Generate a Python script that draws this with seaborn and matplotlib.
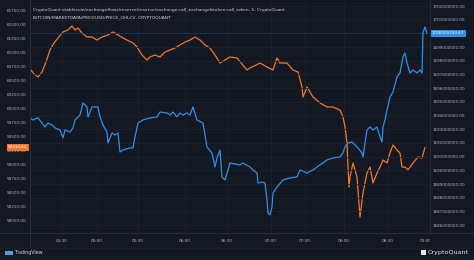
import matplotlib
matplotlib.use("Agg")
import matplotlib.pyplot as plt
import matplotlib.ticker as mticker
from matplotlib.patches import Rectangle
import seaborn as sns
import pandas as pd

# ---------------- data ----------------
btc_bar = [2, 5, 9, 13, 17, 21, 25, 29, 34, 39, 43, 46, 49, 53, 58, 63, 68, 73, 79, 84,
           89, 94, 98, 104, 108, 113, 118, 121, 126, 131, 136, 141, 146, 151, 156, 161, 166,
           171, 176, 181, 186, 191, 201, 208, 218, 221, 231, 238, 244, 248, 251, 258, 264,
           269, 273, 274, 278, 284, 291, 298, 304, 311, 314, 316, 318, 319, 320, 321, 324,
           328, 331, 334, 338, 341, 344, 348, 351, 354, 358, 361, 364, 368, 371, 373, 376,
           379, 384, 389, 393, 396]
btc_price = [60696, 60625, 60571, 60661, 60839, 61054, 61179, 61268, 61375, 61411, 61482,
             61411, 61446, 61357, 61286, 61286, 61232, 61286, 61321, 61375, 61321, 61268,
             61232, 61179, 61107, 60964, 60875, 60929, 60964, 60929, 61018, 61054, 61089,
             61143, 61196, 61232, 61286, 61232, 61143, 61089, 60964, 60821, 60929, 60911,
             60696, 60732, 60821, 60750, 60696, 60911, 60821, 60821, 60696, 60661, 60393,
             60214, 60393, 60214, 60107, 60036, 60036, 59982, 59857, 59679, 59393, 58964,
             58607, 58786, 59036, 58786, 58071, 58500, 58857, 58964, 58679, 58857, 58964,
             59089, 59036, 59214, 59357, 59268, 59214, 58964, 58964, 58911, 59036, 59143,
             59125, 59314.82]

res_bar = [1, 4, 6, 9, 13, 16, 19, 23, 26, 31, 34, 36, 41, 44, 46, 51, 54, 58, 59, 63, 69,
           71, 74, 78, 79, 83, 86, 89, 91, 94, 101, 104, 106, 109, 114, 121, 128, 131, 138,
           141, 144, 148, 151, 154, 158, 161, 164, 168, 174, 178, 183, 186, 188, 191, 193,
           196, 201, 211, 214, 221, 224, 228, 229, 233, 236, 238, 239, 241, 243, 244, 248,
           254, 261, 268, 271, 278, 284, 288, 294, 298, 304, 311, 314, 316, 319, 323, 326,
           329, 333, 334, 336, 338, 341, 344, 348, 351, 353, 354, 356, 358, 361, 364, 368,
           371, 374, 376, 378, 381, 384, 388, 391, 393, 394, 396, 398]
res_musd = [1693.83, 1693.68, 1693.75, 1693.83, 1693.46, 1693.17, 1693.46, 1693.31, 1693.10,
            1692.95, 1692.37, 1692.95, 1692.80, 1693.10, 1693.68, 1694.04, 1694.92, 1694.63,
            1693.90, 1694.63, 1694.63, 1693.90, 1693.31, 1692.80, 1692.00, 1692.73, 1692.58,
            1692.73, 1691.34, 1691.49, 1691.64, 1691.64, 1692.44, 1693.46, 1693.68, 1693.83,
            1693.90, 1694.26, 1694.19, 1694.04, 1694.26, 1693.90, 1694.19, 1694.04, 1694.19,
            1694.04, 1694.63, 1693.68, 1693.46, 1691.71, 1691.27, 1690.25, 1690.91, 1691.49,
            1689.52, 1689.30, 1690.54, 1690.39, 1690.54, 1690.25, 1690.03, 1689.81, 1689.08,
            1689.15, 1689.08, 1687.84, 1686.89, 1686.75, 1687.33, 1688.35, 1688.79, 1689.30,
            1689.45, 1689.52, 1690.03, 1689.81, 1690.03, 1690.25, 1690.54, 1690.76, 1690.91,
            1690.98, 1691.27, 1691.71, 1692.00, 1692.07, 1691.85, 1691.64, 1691.27, 1690.98,
            1692.00, 1692.95, 1693.17, 1692.95, 1693.17, 1692.44, 1692.07, 1693.17, 1693.68,
            1694.41, 1695.36, 1695.72, 1696.82, 1697.11, 1698.28, 1698.57, 1697.84, 1697.11,
            1697.33, 1697.11, 1697.33, 1697.11, 1700.03, 1700.47, 1700.0003]

time_ticks = [33, 68, 109, 156, 198, 242, 276, 315, 359, 397]
time_labels = ["04:30", "05:00", "05:30", "06:00", "06:30", "07:00", "07:30", "08:00", "08:30", "09:00"]
btc_ticks = [58000, 58250, 58500, 58750, 59000, 59250, 59500, 59750, 60000, 60250, 60500,
             60750, 61000, 61250, 61500, 61750]
res_ticks = list(range(1686, 1703))

title1 = "CryptoQuant:stablecoin/exchangeflows/reserve/reserve/exchange=all_exchange&token=all_token, 5, CryptoQuant"
title2 = "BITCOIN/MARKETDATA/PRICEUSD/PRICE_OHLCV, CRYPTOQUANT"
btc_last_label = "59314.82"
res_last_label = "1700000293.67"

# ---------------- style ----------------
BG = "#141823"
GRID = "#1e2230"
AXL = "#2a2e39"
TXT = "#b2b5be"
ORANGE = "#f0782d"
BLUE = "#2f8fe6"

sns.set_theme(style="dark")
plt.rcParams["font.family"] = ["DejaVu Sans"]

W, H = 474, 260
fig = plt.figure(figsize=(W / 100, H / 100), dpi=100)
fig.patch.set_facecolor(BG)

L, R, T, B = 29.5, 429.5, 1, 233
ax = fig.add_axes([L / W, 1 - B / H, (R - L) / W, (B - T) / H])
ax.set_facecolor(BG)
ax2 = ax.twinx()

df_btc = pd.DataFrame({"bar": btc_bar, "price": btc_price})
df_res = pd.DataFrame({"bar": res_bar, "reserve": res_musd})

sns.lineplot(data=df_btc, x="bar", y="price", ax=ax, color=ORANGE, linewidth=0.9)
sns.lineplot(data=df_res, x="bar", y="reserve", ax=ax2, color=BLUE, linewidth=0.9)

ax.set_xlim(0.5, 400.5)
ax.set_ylim(57785.7, 61928.5)
ax2.set_ylim(1685.43, 1702.365)

ax.set_xticks(time_ticks)
ax.set_xticklabels(time_labels)
ax.set_yticks(btc_ticks)
ax.yaxis.set_major_formatter(mticker.FuncFormatter(lambda v, p: f"{v:.2f}"))
ax2.set_yticks(res_ticks)
ax2.yaxis.set_major_formatter(mticker.FuncFormatter(lambda v, p: f"{v * 1e6:.2f}"))

for a in (ax, ax2):
    a.set_xlabel("")
    a.set_ylabel("")
    for s in a.spines.values():
        s.set_visible(False)
ax.tick_params(axis="both", length=0, labelsize=3.0, labelcolor=TXT, pad=2.2)
ax2.tick_params(axis="y", length=0, labelsize=2.95, labelcolor=TXT, pad=2.4)
ax.tick_params(axis="x", pad=4.5, labelsize=3.0)

# grid
ax.grid(False)
ax2.grid(False)
ax.xaxis.grid(True, color=GRID, linewidth=0.6)
ax2.yaxis.grid(True, color=GRID, linewidth=0.6)
ax.set_axisbelow(True)

# separator lines
for xx in (L, R):
    fig.add_artist(plt.Line2D([xx / W, xx / W], [1 - 248 / H, 1], color=AXL, linewidth=0.7))
fig.add_artist(plt.Line2D([0, 1], [1 - B / H, 1 - B / H], color=AXL, linewidth=0.7))
fig.add_artist(plt.Line2D([0, 1], [1 - 248 / H, 1 - 248 / H], color="#1c202b", linewidth=0.6))

# cover overflow of last time label in right scale corner
fig.add_artist(Rectangle(((R + 0.4) / W, 1 - 247.5 / H), (W - R) / W, 14 / H,
                         transform=fig.transFigure, facecolor=BG, edgecolor="none", zorder=5))

# last price line for reserve
ax2.axhline(res_musd[-1], color=BLUE, linewidth=0.5, alpha=0.45, linestyle=(0, (1, 1)))

# last value labels
ax.text(-0.005, btc_price[-1], btc_last_label, transform=ax.get_yaxis_transform(),
        ha="right", va="center", fontsize=3.0, color="white", zorder=10, clip_on=False,
        bbox=dict(boxstyle="square,pad=0.35", facecolor=ORANGE, edgecolor="none"))
ax2.text(1.006, res_musd[-1], res_last_label, transform=ax2.get_yaxis_transform(),
         ha="left", va="center", fontsize=2.95, color="white", zorder=10, clip_on=False,
         bbox=dict(boxstyle="square,pad=0.35", facecolor=BLUE, edgecolor="none"))

# header texts
fig.text(33 / W, 1 - 10 / H, title1, fontsize=3.2, color="#d1d4dc", va="center", ha="left")
fig.text(33 / W, 1 - 17 / H, title2, fontsize=3.2, color="#d1d4dc", va="center", ha="left")

# footer logos
fig.text(15 / W, 1 - 252.5 / H, "TradingView", fontsize=3.4, color="#d1d4dc", va="center", ha="left")
fig.add_artist(Rectangle((5 / W, 1 - 255 / H), 8 / W, 4 / H, transform=fig.transFigure,
                         facecolor="#5b9bd5", edgecolor="none"))
fig.text(469 / W, 1 - 252.5 / H, "CryptoQuant", fontsize=4.6, color="#e6e6e6", va="center", ha="right")
fig.add_artist(Rectangle((421 / W, 1 - 255 / H), 5 / W, 5 / H, transform=fig.transFigure,
                         facecolor="#e6e6e6", edgecolor="none"))

fig.savefig("out.png", dpi=100, facecolor=BG)
